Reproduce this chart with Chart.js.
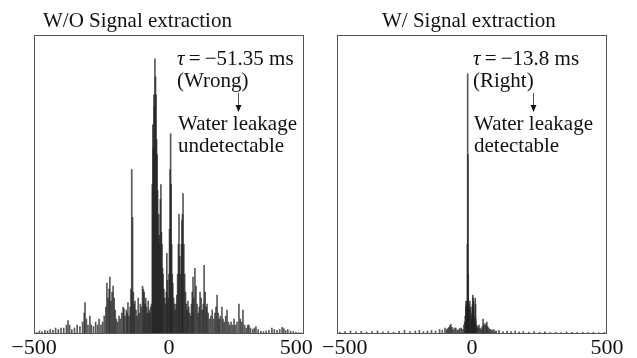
<!DOCTYPE html>
<html>
<head>
<meta charset="utf-8">
<script src="https://cdn.jsdelivr.net/npm/chart.js@4.4.0/dist/chart.umd.min.js"></script>
<style>
    html, body { margin: 0; padding: 0; background: #fff; }
    .panel { position: absolute; left: 0; top: 0; width: 637px; height: 358px; }
</style>
</head>
<body>
<div class="panel"><canvas id="woChart"></canvas></div>
<div class="panel"><canvas id="wChart"></canvas></div>
<script>
// Cross-correlation vs. time lag (ms), normalised to the plot height

const xTicks = [-500, 0, 500];

// W/O signal extraction: spikes all over the place
const woLags = [
    -490, -480, -470, -460, -450, -440, -430, -420, -410, -400,
    -390, -380, -374, -368, -360, -350, -340, -330, -320, -314,
    -311, -306, -300, -293, -288, -280, -272, -265, -259, -252,
    -246, -240, -234, -230, -226, -222, -219, -215, -211, -207,
    -203, -199, -195, -190, -185, -180, -175, -170, -167, -163,
    -158, -155, -152, -148, -144, -141, -138, -135, -132, -129,
    -126, -122, -118, -114, -110, -106, -102, -98, -95, -92,
    -89, -86, -83, -80, -77, -74, -71, -68, -65, -62,
    -60, -58, -56, -54, -52, -50, -48, -46, -44, -42,
    -40, -38, -36, -34, -32, -30, -28, -26, -24, -22,
    -19, -16, -13, -10, -8, -6, -3, 0, 2, 4,
    6, 8, 10, 12, 14, 17, 20, 23, 26, 29,
    32, 35, 37, 40, 43, 46, 48, 50, 52, 55,
    58, 61, 64, 67, 70, 73, 76, 80, 83, 86,
    89, 92, 96, 100, 104, 108, 112, 115, 119, 123,
    127, 130, 134, 138, 141, 145, 150, 155, 160, 165,
    170, 174, 178, 182, 186, 190, 196, 200, 205, 210,
    215, 220, 225, 230, 236, 241, 246, 252, 259, 264,
    269, 274, 280, 286, 292, 296, 302, 310, 316, 322,
    330, 340, 350, 360, 370, 381, 390, 400, 410, 419,
    425, 432, 440, 450, 460, 470, 480, 490
];
const woVals = [
    .005, .01, .008, .012, .01, .015, .012, .02, .015, .02,
    .02, .03, .045, .03, .015, .02, .03, .025, .04, .07,
    .105, .05, .03, .06, .03, .025, .04, .03, .05, .03,
    .04, .06, .09, .17, .12, .15, .19, .11, .14, .16,
    .12, .08, .05, .04, .06, .05, .07, .09, .085, .06,
    .08, .07, .105, .06, .09, .15, .55, .39, .14, .1,
    .11, .08, .06, .12, .07, .1, .09, .16, .15, .14,
    .1, .12, .09, .07, .11, .08, .07, .09, .1, .5,
    .7, .62, .8, .76, .92, .86, .8, .65, .6, .48,
    .32, .4, .33, .3, .45, .5, .34, .3, .22, .2,
    .15, .12, .1, .14, .27, .18, .12, .2, .35, .55,
    .67, .5, .3, .2, .17, .12, .1, .08, .1, .13,
    .2, .3, .4, .26, .2, .3, .38, .4, .47, .3,
    .2, .14, .1, .08, .11, .09, .07, .06, .1, .14,
    .19, .12, .22, .16, .1, .07, .09, .14, .12, .08,
    .1, .23, .14, .09, .1, .07, .05, .06, .08, .05,
    .07, .09, .13, .07, .05, .06, .09, .05, .04, .06,
    .08, .04, .03, .04, .03, .05, .03, .04, .1, .05,
    .04, .08, .03, .02, .03, .03, .02, .015, .02, .025,
    .015, .01, .008, .01, .012, .02, .015, .012, .015, .022,
    .018, .012, .015, .01, .008, .006, .005, .004
];

// W/ signal extraction: one clean peak near -13.8 ms
const wLags = [
    -490, -470, -450, -430, -410, -390, -370, -350, -330, -310,
    -290, -270, -250, -230, -210, -195, -180, -165, -150, -135,
    -120, -110, -100, -94, -90, -86, -82, -78, -74, -70,
    -65, -60, -55, -50, -45, -40, -35, -30, -27, -25,
    -23, -22, -20, -19, -18, -17, -16, -15, -14, -13,
    -12, -11, -10, -8, -6, -4, -2, 0, 1, 2,
    3, 4, 5, 6, 8, 10, 12, 13, 14, 17,
    20, 23, 26, 30, 34, 38, 41, 44, 48, 52,
    55, 58, 62, 66, 70, 75, 80, 85, 90, 100,
    115, 130, 145, 160, 175, 190, 210, 230, 250, 270,
    290, 310, 330, 350, 370, 390, 410, 430, 450, 470, 490
];
const wVals = [
    .006, .008, .01, .007, .009, .006, .008, .01, .007, .008,
    .006, .009, .012, .008, .01, .012, .008, .01, .012, .01,
    .015, .012, .02, .015, .018, .022, .028, .032, .022, .015,
    .02, .02, .012, .015, .018, .02, .015, .03, .04, .06,
    .09, .11, .1, .08, .11, .3, .87, .6, .2, .09,
    .1, .07, .08, .11, .09, .06, .05, .07, .09, .1,
    .13, .12, .08, .11, .06, .04, .12, .1, .05, .03,
    .025, .02, .03, .02, .015, .025, .05, .03, .035, .03,
    .04, .025, .02, .015, .015, .012, .015, .01, .01, .012,
    .008, .01, .008, .01, .007, .008, .006, .008, .006, .007,
    .005, .006, .005, .007, .006, .005, .006, .005, .006, .004, .005
];

const serif = '"Liberation Serif", "Times New Roman", serif';

// box frame, panel title and the tau annotation
const notesPlugin = {
    id: 'notes',
    afterDraw(chart, args, o) {
        const { ctx, chartArea: a } = chart;
        ctx.save();
        ctx.strokeStyle = '#555';
        ctx.lineWidth = 1;
        ctx.strokeRect(a.left + 0.5, a.top + 0.5, a.width - 1, a.height - 1);

        ctx.fillStyle = '#111';
        ctx.textBaseline = 'alphabetic';
        ctx.textAlign = 'left';
        ctx.font = '21px ' + serif;
        ctx.fillText(o.title, a.left + o.titleX, 27);

        const tx = a.left + o.textX;
        ctx.font = 'italic 21px ' + serif;
        ctx.fillText('\u03c4', tx, 65);
        const tw = ctx.measureText('\u03c4').width;
        ctx.font = '21px ' + serif;
        ctx.fillText('\u2009=\u2009\u2212' + o.tau + ' ms', tx + tw, 65);
        ctx.fillText(o.verdict, tx, 87);
        ctx.fillText('Water leakage', tx + 1, 130);
        ctx.fillText(o.last, tx + 1, 152);

        // little down arrow
        const ax = a.left + o.arrowX + 0.5;
        ctx.beginPath();
        ctx.moveTo(ax, 93);
        ctx.lineTo(ax, 109);
        ctx.stroke();
        ctx.beginPath();
        ctx.moveTo(ax - 3, 105);
        ctx.lineTo(ax + 3, 105);
        ctx.lineTo(ax, 112);
        ctx.closePath();
        ctx.fill();
        ctx.restore();
    }
};

function makePanel(id, lags, vals, pad, labelFn, notes) {
    new Chart(document.getElementById(id), {
        type: 'bar',
        data: {
            datasets: [{
                data: lags.map((x, i) => ({ x: x, y: vals[i] })),
                backgroundColor: 'rgba(35, 35, 35, 0.75)',
                borderWidth: 0,
                barThickness: 1,
                grouped: false
            }]
        },
        options: {
            responsive: true,
            maintainAspectRatio: false,
            animation: false,
            devicePixelRatio: 1,
            layout: { padding: pad },
            plugins: {
                legend: { display: false },
                tooltip: { enabled: false },
                notes: notes
            },
            scales: {
                x: {
                    type: 'linear',
                    min: -500,
                    max: 500,
                    offset: false,
                    afterFit: s => { s.height = 24; },
                    afterBuildTicks: s => { s.ticks = xTicks.map(v => ({ value: v })); },
                    grid: { display: false, drawTicks: false, offset: false },
                    border: { display: false },
                    ticks: {
                        autoSkip: false,
                        maxRotation: 0,
                        padding: 1,
                        color: '#111',
                        font: { family: serif, size: 22 },
                        callback: labelFn
                    }
                },
                y: { display: false, min: 0, max: 1 }
            }
        },
        plugins: [notesPlugin]
    });
}

makePanel('woChart', woLags, woVals,
    { left: 34, right: 333, top: 35, bottom: 0 },
    v => v === 500 ? '500\u2002\u2009' : (v < 0 ? '\u2212' + Math.abs(v) : String(v)),
    { title: 'W/O Signal extraction', titleX: 9, textX: 143, arrowX: 204,
      tau: '51.35', verdict: '(Wrong)', last: 'undetectable' });

makePanel('wChart', wLags, wVals,
    { left: 337, right: 30, top: 35, bottom: 0 },
    v => v === -500 ? '\u2002\u2009\u2212500' : String(v),
    { title: 'W/ Signal extraction', titleX: 45, textX: 136, arrowX: 196,
      tau: '13.8', verdict: '(Right)', last: 'detectable' });
</script>
</body>
</html>
